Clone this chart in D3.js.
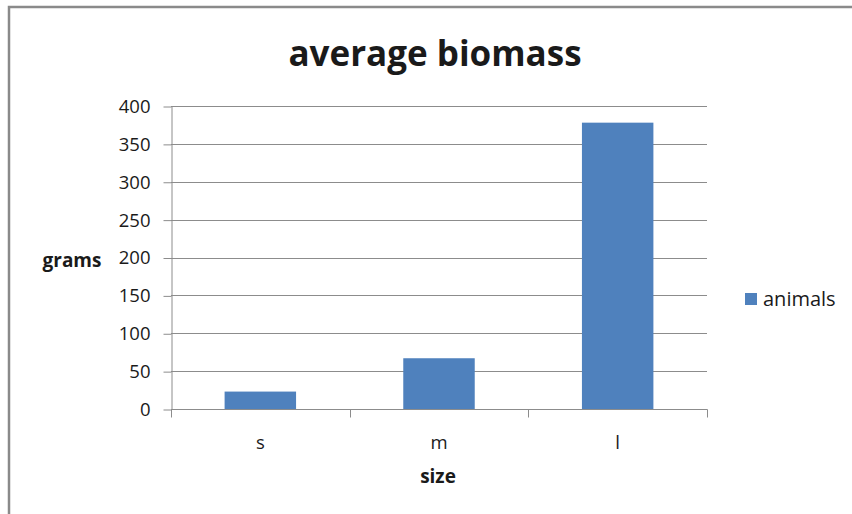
<!DOCTYPE html>
<html>
<head>
<meta charset="utf-8">
<script src="https://cdn.jsdelivr.net/npm/d3@7/dist/d3.min.js"></script>
<style>
  body { margin: 0; background: #fff; }
  text { font-family: "Open Sans", Lato, sans-serif; fill: #1a1a1a; }
  .grid line { stroke: #8c8c8c; stroke-width: 1; }
  .axis path, .axis line { stroke: #8c8c8c; }
</style>
</head>
<body>
<script>
// chart data
var categories = ["s", "m", "l"];
var biomass = [23, 67, 378];
var yTicks = [0, 50, 100, 150, 200, 250, 300, 350, 400];
var seriesName = "animals";

var width = 852, height = 514;
var plot = {left: 171, right: 707, top: 106, bottom: 409};

var svg = d3.select("body").append("svg")
    .attr("width", width)
    .attr("height", height);

// outer frame
svg.append("path")
    .attr("d", "M9," + height + "V7H" + width)
    .attr("fill", "none")
    .attr("stroke", "#8a8a8a")
    .attr("stroke-width", 2.5);

var x = d3.scaleBand()
    .domain(categories)
    .range([plot.left, plot.right])
    .paddingInner(0.6)
    .paddingOuter(0.3);

var y = d3.scaleLinear()
    .domain([0, 400])
    .range([plot.bottom, plot.top]);

// gridlines
svg.append("g")
    .attr("class", "grid")
    .selectAll("line")
    .data(yTicks.slice(1))
    .enter()
    .append("line")
    .attr("x1", plot.left)
    .attr("x2", plot.right)
    .attr("y1", function(d){ return Math.round(y(d)) + 0.5; })
    .attr("y2", function(d){ return Math.round(y(d)) + 0.5; });

// bars
svg.selectAll(".bar")
    .data(biomass)
    .enter()
    .append("rect")
    .attr("class", "bar")
    .attr("x", function(d, i){ return x(categories[i]); })
    .attr("width", x.bandwidth())
    .attr("y", function(d){ return y(d); })
    .attr("height", function(d){ return y(0) - y(d); })
    .attr("fill", "#4f81bd");

// y axis
var yAxis = svg.append("g")
    .attr("class", "axis")
    .attr("transform", "translate(" + (plot.left + 0.5) + ",0.5)")
    .call(d3.axisLeft(y).tickValues(yTicks).tickSize(8).tickSizeOuter(0).tickPadding(13));
yAxis.selectAll("text").style("font-size", "18.5px").attr("fill", "#1a1a1a");

// x axis, ticks between categories
var xAxis = svg.append("g")
    .attr("class", "axis")
    .attr("transform", "translate(0," + (plot.bottom + 0.5) + ")");
xAxis.append("line")
    .attr("x1", plot.left).attr("x2", plot.right + 0.5);
var step = (plot.right - plot.left) / categories.length;
xAxis.selectAll(".tk")
    .data(d3.range(categories.length + 1))
    .enter()
    .append("line")
    .attr("class", "tk")
    .attr("x1", function(i){ return Math.round(plot.left + i * step) + 0.5; })
    .attr("x2", function(i){ return Math.round(plot.left + i * step) + 0.5; })
    .attr("y1", 0).attr("y2", 8);
xAxis.selectAll(".lbl")
    .data(categories)
    .enter()
    .append("text")
    .attr("class", "lbl")
    .attr("x", function(d){ return x(d) + x.bandwidth() / 2; })
    .attr("y", 39)
    .attr("text-anchor", "middle")
    .style("font-size", "18.5px")
    .text(function(d){ return d; });

// title and axis titles
svg.append("text")
    .attr("x", 435).attr("y", 66)
    .attr("text-anchor", "middle")
    .style("font-size", "35px").style("font-weight", "bold")
    .text("average biomass");

svg.append("text")
    .attr("x", 72).attr("y", 267)
    .attr("text-anchor", "middle")
    .style("font-size", "19px").style("font-weight", "bold")
    .text("grams");

svg.append("text")
    .attr("x", 438).attr("y", 483)
    .attr("text-anchor", "middle")
    .style("font-size", "19px").style("font-weight", "bold")
    .text("size");

// legend
svg.append("rect")
    .attr("x", 745).attr("y", 293)
    .attr("width", 12).attr("height", 12)
    .attr("fill", "#4f81bd");
svg.append("text")
    .attr("x", 763).attr("y", 306)
    .style("font-size", "20px")
    .text(seriesName);
</script>
</body>
</html>
